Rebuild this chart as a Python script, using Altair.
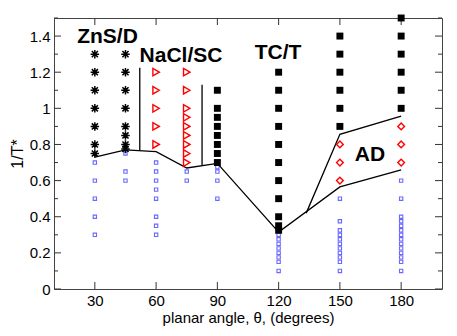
import altair as alt
import pandas as pd

# ---- data ----
star_theta = [30, 30, 30, 30, 30, 30, 30, 45, 45, 45, 45, 45, 45, 45, 45]
star_val = [1.3, 1.2, 1.1, 1.0, 0.9, 0.8, 0.75, 1.3, 1.2, 1.1, 1.0, 0.9, 0.85, 0.8, 0.775]

tri_theta = [60, 60, 60, 60, 60, 75, 75, 75, 75, 75, 75, 75, 75, 75]
tri_val = [1.2, 1.1, 1.0, 0.9, 0.8, 1.2, 1.1, 1.0, 0.95, 0.9, 0.85, 0.8, 0.75, 0.7]

sq_theta = [90, 90, 90, 90, 90, 90, 90, 90,
            120, 120, 120, 120, 120, 120, 120, 120, 120, 120, 120,
            150, 150, 150, 150, 150, 150,
            180, 180, 180, 180, 180, 180]
sq_val = [1.1, 1.0, 0.95, 0.9, 0.85, 0.8, 0.75, 0.7,
          1.2, 1.1, 1.0, 0.9, 0.8, 0.7, 0.6, 0.5, 0.4, 0.35, 0.325,
          1.4, 1.3, 1.2, 1.1, 1.0, 0.9,
          1.5, 1.4, 1.3, 1.2, 1.1, 1.0]

dia_theta = [150, 150, 150, 180, 180, 180]
dia_val = [0.8, 0.7, 0.6, 0.9, 0.8, 0.7]

blue_theta = [30, 30, 30, 30, 30,
              45, 45, 45,
              60, 60, 60, 60, 60, 60, 60, 60,
              75, 75,
              90, 90, 90, 90,
              120, 120, 120, 120, 120, 120, 120, 120,
              150, 150, 150, 150, 150, 150, 150, 150, 150, 150, 150,
              180, 180, 180, 180, 180, 180, 180, 180, 180, 180, 180, 180, 180, 180]
blue_val = [0.7, 0.6, 0.5, 0.4, 0.3,
            0.75, 0.65, 0.6,
            0.7, 0.65, 0.6, 0.55, 0.5, 0.4, 0.35, 0.3,
            0.65, 0.6,
            0.675, 0.65, 0.6, 0.5,
            0.3, 0.275, 0.25, 0.225, 0.2, 0.175, 0.15, 0.1,
            0.5, 0.375, 0.325, 0.3, 0.275, 0.25, 0.225, 0.2, 0.175, 0.15, 0.1,
            0.6, 0.5, 0.4, 0.375, 0.35, 0.325, 0.3, 0.275, 0.25, 0.225, 0.2, 0.175, 0.15, 0.1]

line1_theta = [30, 45, 60, 75, 90, 120, 150, 180]
line1_val = [0.73, 0.77, 0.76, 0.67, 0.695, 0.315, 0.565, 0.66]

line2_theta = [133.5, 150, 180]
line2_val = [0.42, 0.856, 0.957]

vline_theta = [52, 82.5]
vline_low = [0.765, 0.683]
vline_high = [1.225, 1.13]

label_text = ["ZnS/D", "NaCl/SC", "TC/T", "AD"]
label_theta = [36.2, 72.2, 119.7, 164.7]
label_val = [1.36, 1.254, 1.272, 0.707]

x_ticks = [30, 60, 90, 120, 150, 180]
y_major = [0, 0.2, 0.4, 0.6, 0.8, 1.0, 1.2, 1.4]
y_minor = [0.1, 0.3, 0.5, 0.7, 0.9, 1.1, 1.3, 1.5]

W, H = 388, 271
FONT = "Liberation Sans"

xs = alt.Scale(domain=[10, 200], nice=False, zero=False)
ys = alt.Scale(domain=[0, 1.5], nice=False, zero=True)

X = lambda f: alt.X(f, type="quantitative", scale=xs,
                    axis=alt.Axis(values=x_ticks, title="planar angle, θ, (degrees)",
                                  grid=False, domain=False, ticks=False, tickSize=0,
                                  labelPadding=4, titlePadding=2))
Y = lambda f: alt.Y(f, type="quantitative", scale=ys,
                    axis=alt.Axis(values=y_major, format="~g", title="1/T*",
                                  grid=False, domain=False, ticks=False, tickSize=0,
                                  labelPadding=4, titlePadding=4, titleFontSize=16))

df_star = pd.DataFrame({"t": star_theta, "v": star_val})
df_tri = pd.DataFrame({"t": tri_theta, "v": tri_val})
df_sq = pd.DataFrame({"t": sq_theta, "v": sq_val})
df_dia = pd.DataFrame({"t": dia_theta, "v": dia_val})
df_blue = pd.DataFrame({"t": blue_theta, "v": blue_val})
df_l1 = pd.DataFrame({"t": line1_theta, "v": line1_val})
df_l2 = pd.DataFrame({"t": line2_theta, "v": line2_val})
df_vl = pd.DataFrame({"t": vline_theta, "lo": vline_low, "hi": vline_high})
df_lab = pd.DataFrame({"t": label_theta, "v": label_val, "txt": label_text})

blue = alt.Chart(df_blue).mark_point(shape="square", size=11, filled=False,
                                     color="#2a2aff", strokeWidth=1.1).encode(x=X("t"), y=Y("v"))
l1 = alt.Chart(df_l1).mark_line(color="black", strokeWidth=1.3).encode(x=X("t"), y=Y("v"))
l2 = alt.Chart(df_l2).mark_line(color="black", strokeWidth=1.3).encode(x=X("t"), y=Y("v"))
vl = alt.Chart(df_vl).mark_rule(color="black", strokeWidth=1.3).encode(
    x=X("t"), y=Y("lo"), y2="hi")
sq = alt.Chart(df_sq).mark_point(shape="square", size=48, filled=True, opacity=1,
                                 color="black").encode(x=X("t"), y=Y("v"))
star_path = "M0,-1L0,1M-1,0L1,0M-0.72,-0.72L0.72,0.72M-0.72,0.72L0.72,-0.72"
stars = alt.Chart(df_star).mark_point(shape=star_path, size=72, filled=False, opacity=1,
                                      color="black", strokeWidth=1.5).encode(x=X("t"), y=Y("v"))
tri = alt.Chart(df_tri).mark_point(shape="triangle-right", size=55, filled=False, opacity=1,
                                   color="#ff0000", strokeWidth=1.4).encode(x=X("t"), y=Y("v"))
dia = alt.Chart(df_dia).mark_point(shape="diamond", size=45, filled=False, opacity=1,
                                   color="#ff0000", strokeWidth=1.4).encode(x=X("t"), y=Y("v"))
labels = alt.Chart(df_lab).mark_text(font=FONT, fontSize=21, fontWeight="bold",
                                     color="black", align="center",
                                     baseline="alphabetic").encode(
    x=X("t"), y=Y("v"), text="txt:N")

# inward axis ticks
df_xt = pd.DataFrame({"t": x_ticks})
df_ymaj = pd.DataFrame({"v": y_major})
df_ymin = pd.DataFrame({"v": y_minor})
tick_style = dict(color="#333333", strokeWidth=1)
xt_bot = alt.Chart(df_xt).mark_rule(**tick_style).encode(
    x=X("t"), y=alt.value(H), y2=alt.value(H - 7))
xt_top = alt.Chart(df_xt).mark_rule(**tick_style).encode(
    x=X("t"), y=alt.value(0), y2=alt.value(7))
yl_maj = alt.Chart(df_ymaj).mark_rule(**tick_style).encode(
    y=Y("v"), x=alt.value(0), x2=alt.value(7))
yl_min = alt.Chart(df_ymin).mark_rule(**tick_style).encode(
    y=Y("v"), x=alt.value(0), x2=alt.value(4))
yr_maj = alt.Chart(df_ymaj).mark_rule(**tick_style).encode(
    y=Y("v"), x=alt.value(W - 7), x2=alt.value(W))
yr_min = alt.Chart(df_ymin).mark_rule(**tick_style).encode(
    y=Y("v"), x=alt.value(W - 4), x2=alt.value(W))

chart = alt.layer(
    xt_bot, xt_top, yl_maj, yl_min, yr_maj, yr_min,
    blue, l1, l2, vl, sq, stars, tri, dia, labels
).properties(
    width=W, height=H,
    autosize=alt.AutoSizeParams(type="none"),
    padding={"left": 46, "top": 10, "right": 5, "bottom": 38},
).configure(
    font=FONT,
).configure_view(
    stroke="#444444", strokeWidth=1,
).configure_axis(
    labelFont=FONT, titleFont=FONT, labelFontSize=15, titleFontSize=15,
    labelColor="black", titleColor="black", titleFontWeight="normal",
)

chart.save("out.html", embed_options={"renderer": "svg", "actions": False})
